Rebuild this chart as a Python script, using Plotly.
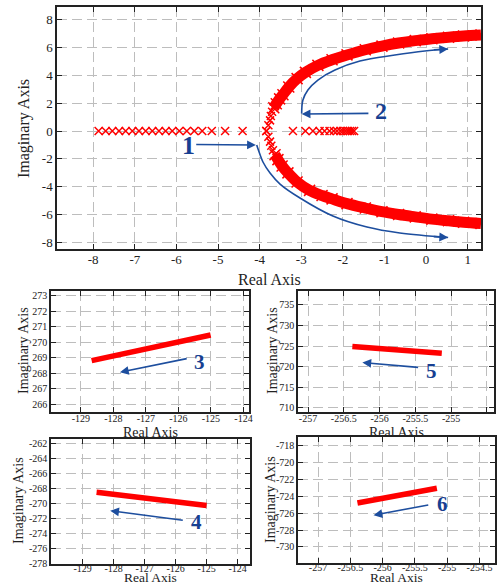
import plotly.graph_objects as go

W, H = 497, 587
FONT = "Liberation Serif"
RED = "#ff0000"
BLUE = "#1d4e9e"
LBL = "#173f91"

# ---------------- main root-locus data ----------------
real_left_x = [-7.87, -7.70, -7.54, -7.38, -7.22, -7.06, -6.90, -6.74, -6.58, -6.42,
               -6.26, -6.10, -5.93, -5.75, -5.57, -5.38, -5.15, -4.83, -4.41]
real_right_x = [-3.20, -2.90, -2.72, -2.56, -2.44, -2.32, -2.22, -2.14, -2.06, -2.00,
                -1.94, -1.88, -1.83, -1.78, -1.73]

up_sparse_x = [-3.84, -3.79, -3.75, -3.73, -3.70, -3.66]
up_sparse_y = [0.0, 0.41, 0.76, 1.07, 1.38, 1.66]
lo_sparse_x = [-3.84, -3.79, -3.75, -3.72, -3.68, -3.63]
lo_sparse_y = [0.0, -0.41, -0.76, -1.05, -1.38, -1.70]

up_band_x = [-3.66, -3.60, -3.52, -3.44, -3.30, -3.10, -2.90, -2.60, -2.26, -1.90,
             -1.46, -1.06, -0.66, -0.26, 0.14, 0.54, 0.90, 1.32]
up_band_y = [1.66, 1.95, 2.30, 2.60, 3.15, 3.75, 4.20, 4.70, 5.10, 5.45,
             5.82, 6.08, 6.30, 6.47, 6.60, 6.72, 6.81, 6.88]
lo_band_x = [-3.63, -3.56, -3.46, -3.32, -3.10, -2.80, -2.50, -2.26, -1.90, -1.46,
             -1.06, -0.66, -0.26, 0.14, 0.54, 0.90, 1.32]
lo_band_y = [-1.70, -2.05, -2.50, -3.00, -3.65, -4.25, -4.62, -4.86, -5.20, -5.52,
             -5.78, -5.98, -6.15, -6.31, -6.43, -6.53, -6.62]

# curved arrows in the main plot
arr1_x = [-4.07, -4.03, -3.92, -3.75, -3.51, -3.03, -2.24, -1.42, -0.63, 0.53]
arr1_y = [-1.00, -1.36, -2.22, -3.01, -3.80, -4.80, -6.09, -6.88, -7.31, -7.63]
arr2_x = [-2.99, -2.96, -2.84, -2.60, -2.19, -1.59, -0.75, -0.03, 0.53]
arr2_y = [1.25, 2.22, 2.94, 3.65, 4.37, 5.01, 5.44, 5.73, 5.87]

# ---------------- zoomed branches ----------------
b3_x = [-128.67, -125.01]; b3_y = [268.81, 270.46]
b5_x = [-256.38, -255.13]; b5_y = [724.9, 723.3]
b4_x = [-128.55, -125.00]; b4_y = [-268.5, -270.25]
b6_x = [-256.39, -255.16]; b6_y = [-724.8, -723.06]

# ---------------- ticks ----------------
main_xt = [-8, -7, -6, -5, -4, -3, -2, -1, 0, 1]
main_yt = [-8, -6, -4, -2, 0, 2, 4, 6, 8]
s3_xt = [-129, -128, -127, -126, -125, -124]
s3_yt = [266, 267, 268, 269, 270, 271, 272, 273]
s5_xt = [-257, -256.5, -256, -255.5, -255, -254.5]
s5_yt = [710, 715, 720, 725, 730, 735]
s4_xt = [-129, -128, -127, -126, -125, -124]
s4_yt = [-278, -276, -274, -272, -270, -268, -266, -264, -262]
s6_xt = [-257, -256.5, -256, -255.5, -255, -254.5]
s6_yt = [-730, -728, -726, -724, -722, -720, -718]


def lab(v):
    return [("%g" % t) for t in v]


def px_dom(a, b, total, flip=False):
    if flip:
        return [1 - b / total, 1 - a / total]
    return [a / total, b / total]


def axis(domain, rng, tv, fs, anchor, standoff=0):
    return dict(domain=domain, range=rng, tickvals=tv, ticktext=lab(tv),
                ticks="inside", ticklen=5, tickwidth=1, tickcolor="#222",
                showline=True, linewidth=1.5, linecolor="#222", mirror="ticks",
                showgrid=True, gridcolor="#bdbdbd", gridwidth=1.2, griddash="10px,5px",
                zeroline=False, anchor=anchor, automargin=False,
                ticklabelstandoff=standoff,
                tickfont=dict(family=FONT, size=fs, color="#222"))


fig = go.Figure()
mk = dict(symbol="x-thin", size=8, line=dict(width=1.5, color=RED), color=RED)

fig.add_trace(go.Scatter(x=real_left_x, y=[0] * len(real_left_x), mode="markers", marker=mk))
fig.add_trace(go.Scatter(x=real_right_x, y=[0] * len(real_right_x), mode="markers", marker=mk))
fig.add_trace(go.Scatter(x=up_sparse_x, y=up_sparse_y, mode="markers", marker=mk))
fig.add_trace(go.Scatter(x=lo_sparse_x, y=lo_sparse_y, mode="markers", marker=mk))
mkb = dict(symbol="x-thin", size=11, line=dict(width=1.5, color=RED), color=RED)
fig.add_trace(go.Scatter(x=up_band_x, y=up_band_y, mode="lines+markers", marker=mkb,
                         line=dict(color=RED, width=11, shape="spline")))
fig.add_trace(go.Scatter(x=lo_band_x, y=lo_band_y, mode="lines+markers", marker=mkb,
                         line=dict(color=RED, width=11, shape="spline")))
fig.add_trace(go.Scatter(x=arr1_x, y=arr1_y, mode="lines",
                         line=dict(color=BLUE, width=1.6, shape="spline")))
fig.add_trace(go.Scatter(x=arr2_x, y=arr2_y, mode="lines",
                         line=dict(color=BLUE, width=1.6, shape="spline")))

for xs, ys, xa, ya in [(b3_x, b3_y, "x2", "y2"), (b5_x, b5_y, "x3", "y3"),
                       (b4_x, b4_y, "x4", "y4"), (b6_x, b6_y, "x5", "y5")]:
    fig.add_trace(go.Scatter(x=xs, y=ys, mode="lines", xaxis=xa, yaxis=ya,
                             line=dict(color=RED, width=5.5)))

ann = []


def arrow(x, y, ax_, ay_, xr, yr):
    ann.append(dict(x=x, y=y, ax=ax_, ay=ay_, xref=xr, yref=yr, axref=xr, ayref=yr,
                    text="", showarrow=True, arrowhead=2, arrowsize=1.1, arrowwidth=1.6,
                    arrowcolor=BLUE))


def label(t, x, y, xr, yr, fs):
    ann.append(dict(x=x, y=y, xref=xr, yref=yr, text="<b>%s</b>" % t, showarrow=False,
                    font=dict(family=FONT, size=fs, color=LBL)))


# main plot arrows
arrow(-4.09, -1.0, -5.56, -0.97, "x", "y")
arrow(arr1_x[-1], arr1_y[-1], 0.15, -7.56, "x", "y")
arrow(-2.99, 1.22, -1.35, 1.26, "x", "y")
arrow(arr2_x[-1], arr2_y[-1], 0.15, 5.81, "x", "y")
label("1", -5.72, -1.07, "x", "y", 26)
label("2", -1.09, 1.45, "x", "y", 24)
# small plots arrows
arrow(-127.8, 268.06, -125.7, 268.96, "x2", "y2")
label("3", -125.34, 268.72, "x2", "y2", 21)
arrow(-256.24, 721.0, -255.44, 719.8, "x3", "y3")
label("5", -255.28, 719.0, "x3", "y3", 21)
arrow(-128.11, -270.96, -125.72, -272.24, "x4", "y4")
label("4", -125.33, -272.48, "x4", "y4", 21)
arrow(-256.14, -726.25, -255.27, -725.0, "x5", "y5")
label("6", -255.08, -724.93, "x5", "y5", 21)


def title(t, xp, yp, fs, rot=False, yanchor="middle"):
    ann.append(dict(x=xp / W, y=1 - yp / H, xref="paper", yref="paper", text=t,
                    showarrow=False, textangle=-90 if rot else 0,
                    xanchor="center", yanchor=yanchor,
                    font=dict(family=FONT, size=fs, color="#222")))


title("Imaginary Axis", 24, 129, 16, True)
title("Real Axis", 269, 279, 16)
title("Imaginary Axis", 23, 351, 14, True)
title("Real Axis", 150, 432, 14)
title("Imaginary Axis", 272, 351, 14, True)
title("Real Axis", 396, 432, 14)
title("Imaginary Axis", 18, 501, 14, True)
title("Real Axis", 150, 587, 13.5, yanchor="bottom")
title("Imaginary Axis", 270, 500, 14, True)
title("Real Axis", 396, 587, 13.5, yanchor="bottom")

fig.update_layout(
    width=W, height=H, margin=dict(l=0, r=0, t=0, b=0, autoexpand=False),
    paper_bgcolor="white", plot_bgcolor="white", showlegend=False,
    xaxis=axis(px_dom(57, 481, W), [-8.87, 1.32], main_xt, 13, "y", -2),
    yaxis=axis(px_dom(7, 249, H, True), [-8.45, 8.88], main_yt, 13, "x"),
    xaxis2=axis(px_dom(51, 249, W), [-129.92, -123.83], s3_xt, 10, "y2", -4),
    yaxis2=axis(px_dom(291, 412, H, True), [265.5, 273.3], s3_yt, 10, "x2"),
    xaxis3=axis(px_dom(298, 494, W), [-257.14, -254.4], s5_xt, 10, "y3", -4),
    yaxis3=axis(px_dom(291, 412, H, True), [709.0, 738.4], s5_yt, 10, "x3"),
    xaxis4=axis(px_dom(51, 250, W), [-130.02, -123.6], s4_xt, 10, "y4", -6),
    yaxis4=axis(px_dom(439, 564, H, True), [-278.05, -261.4], s4_yt, 10, "x4"),
    xaxis5=axis(px_dom(298, 495, W), [-257.31, -254.26], s6_xt, 10, "y5", -6),
    yaxis5=axis(px_dom(437, 563, H, True), [-731.9, -717.0], s6_yt, 10, "x5"),
    annotations=ann,
)

fig.write_html("out.html", config={"displayModeBar": False},
               post_script="document.body.style.margin='0';document.body.style.padding='0';"
                           "document.body.style.overflow='hidden';")
